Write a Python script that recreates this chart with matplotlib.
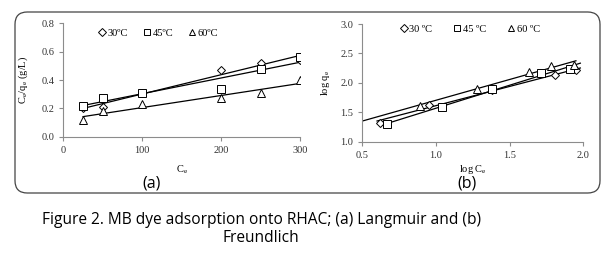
import matplotlib.pyplot as plt
import numpy as np
from matplotlib.patches import FancyBboxPatch

plt.rcParams['font.family'] = 'Liberation Serif'
plt.rcParams['mathtext.fontset'] = 'stix'

# (a) Langmuir: Ce vs Ce/qe
ce_a = [25, 50, 100, 200, 250, 300]
lang_30 = [0.20, 0.21, 0.31, 0.47, 0.52, 0.54]
lang_45 = [0.22, 0.27, 0.31, 0.34, 0.48, 0.56]
lang_60 = [0.12, 0.18, 0.23, 0.27, 0.31, 0.40]

# (b) Freundlich: log Ce vs log qe
logce_30 = [0.62, 0.95, 1.38, 1.81, 1.95]
logqe_30 = [1.32, 1.63, 1.88, 2.13, 2.22]
logce_45 = [0.67, 1.04, 1.38, 1.71, 1.91]
logqe_45 = [1.30, 1.59, 1.89, 2.17, 2.23]
logce_60 = [0.89, 1.28, 1.63, 1.78, 1.94]
logqe_60 = [1.61, 1.90, 2.19, 2.29, 2.31]

labels_a = ['30ºC', '45ºC', '60ºC']
labels_b = ['30 ºC', '45 ºC', '60 ºC']
markers = ['D', 's', '^']
msizes = [4.4, 5.5, 5.5]

fig = plt.figure(figsize=(6.15, 2.62), dpi=100)

# rounded frame around both panels
frame = FancyBboxPatch((15 / 615, 1 - 193 / 262), (600 - 15) / 615, (193 - 12) / 262,
                       boxstyle='round,pad=0,rounding_size=0.02', transform=fig.transFigure,
                       fill=False, edgecolor='#444444', linewidth=0.9, mutation_aspect=2.35)
fig.patches.append(frame)

ax1 = fig.add_axes([63.3 / 615, 1 - 136.7 / 262, (300 - 63.3) / 615, (136.7 - 23.3) / 262])
ax2 = fig.add_axes([362.3 / 615, 1 - 141.7 / 262, (583.3 - 362.3) / 615, (141.7 - 24) / 262])


def style(ax):
    for s in ['top', 'right']:
        ax.spines[s].set_visible(False)
    for s in ['left', 'bottom']:
        ax.spines[s].set_color('#8c8c8c')
        ax.spines[s].set_linewidth(0.8)
    ax.tick_params(axis='both', labelsize=7.5, colors='#8c8c8c', labelcolor='#333333',
                   length=3, width=0.8, direction='out')
    ax.set_facecolor('none')


def trend(ax, x, y, x0, x1):
    k, b = np.polyfit(x, y, 1)
    xs = np.array([x0, x1])
    ax.plot(xs, k * xs + b, color='black', lw=0.9, zorder=2)


# panel (a)
for y, m, ms, lab in zip([lang_30, lang_45, lang_60], markers, msizes, labels_a):
    ax1.plot(ce_a, y, m, ms=ms, mfc='white', mec='black', mew=0.7, ls='none', label=lab, zorder=3)
    trend(ax1, ce_a, y, min(ce_a), max(ce_a))
ax1.set_xlim(0, 300)
ax1.set_ylim(0, 0.8)
ax1.set_xticks([0, 100, 200, 300])
ax1.set_yticks(np.arange(0, 0.81, 0.2))
ax1.yaxis.set_major_formatter(plt.FormatStrFormatter('%.1f'))
ax1.set_xlabel(r'C$_\mathrm{e}$', fontsize=7.5, labelpad=6)
ax1.set_ylabel(r'C$_\mathrm{e}$/q$_\mathrm{e}$ (g/L)', fontsize=7.5, labelpad=8)
style(ax1)
ax1.legend(loc='center left', bbox_to_anchor=(0.12, 0.915), ncol=3, frameon=False,
           fontsize=7.5, handletextpad=0.05, columnspacing=1.3, handlelength=1.0,
           borderpad=0, markerscale=0.85)

# panel (b)
groups_b = [(logce_30, logqe_30), (logce_45, logqe_45), (logce_60, logqe_60)]
ends = [(0.60, 1.98), (0.65, 1.98), (0.5, 1.95)]
for (x, y), m, ms, lab, (x0, x1) in zip(groups_b, markers, msizes, labels_b, ends):
    ax2.plot(x, y, m, ms=ms, mfc='white', mec='black', mew=0.7, ls='none', label=lab, zorder=3)
    trend(ax2, x, y, x0, x1)
ax2.set_xlim(0.5, 2.0)
ax2.set_ylim(1.0, 3.0)
ax2.set_xticks([0.5, 1.0, 1.5, 2.0])
ax2.set_yticks([1.0, 1.5, 2.0, 2.5, 3.0])
ax2.xaxis.set_major_formatter(plt.FormatStrFormatter('%.1f'))
ax2.yaxis.set_major_formatter(plt.FormatStrFormatter('%.1f'))
ax2.set_xlabel(r'log C$_\mathrm{e}$', fontsize=7.5, labelpad=2)
ax2.set_ylabel(r'log q$_\mathrm{e}$', fontsize=7.5, labelpad=6)
style(ax2)
ax2.legend(loc='center left', bbox_to_anchor=(0.14, 0.955), ncol=3, frameon=False,
           fontsize=7.5, handletextpad=0.05, columnspacing=1.9, handlelength=1.0,
           borderpad=0, markerscale=0.85)

# panel tags and caption
fig.text(152 / 615, 1 - 183 / 262, '(a)', fontsize=11.5, family='Open Sans', ha='center', va='center')
fig.text(467 / 615, 1 - 183 / 262, '(b)', fontsize=11.5, family='Open Sans', ha='center', va='center')
fig.text(261 / 615, 1 - 220 / 262, 'Figure 2. MB dye adsorption onto RHAC; (a) Langmuir and (b)',
         fontsize=11.2, family='Open Sans', ha='center', va='center')
fig.text(261 / 615, 1 - 238 / 262, 'Freundlich', fontsize=11.2, family='Open Sans',
         ha='center', va='center')

fig.savefig('out.png', dpi=100)
